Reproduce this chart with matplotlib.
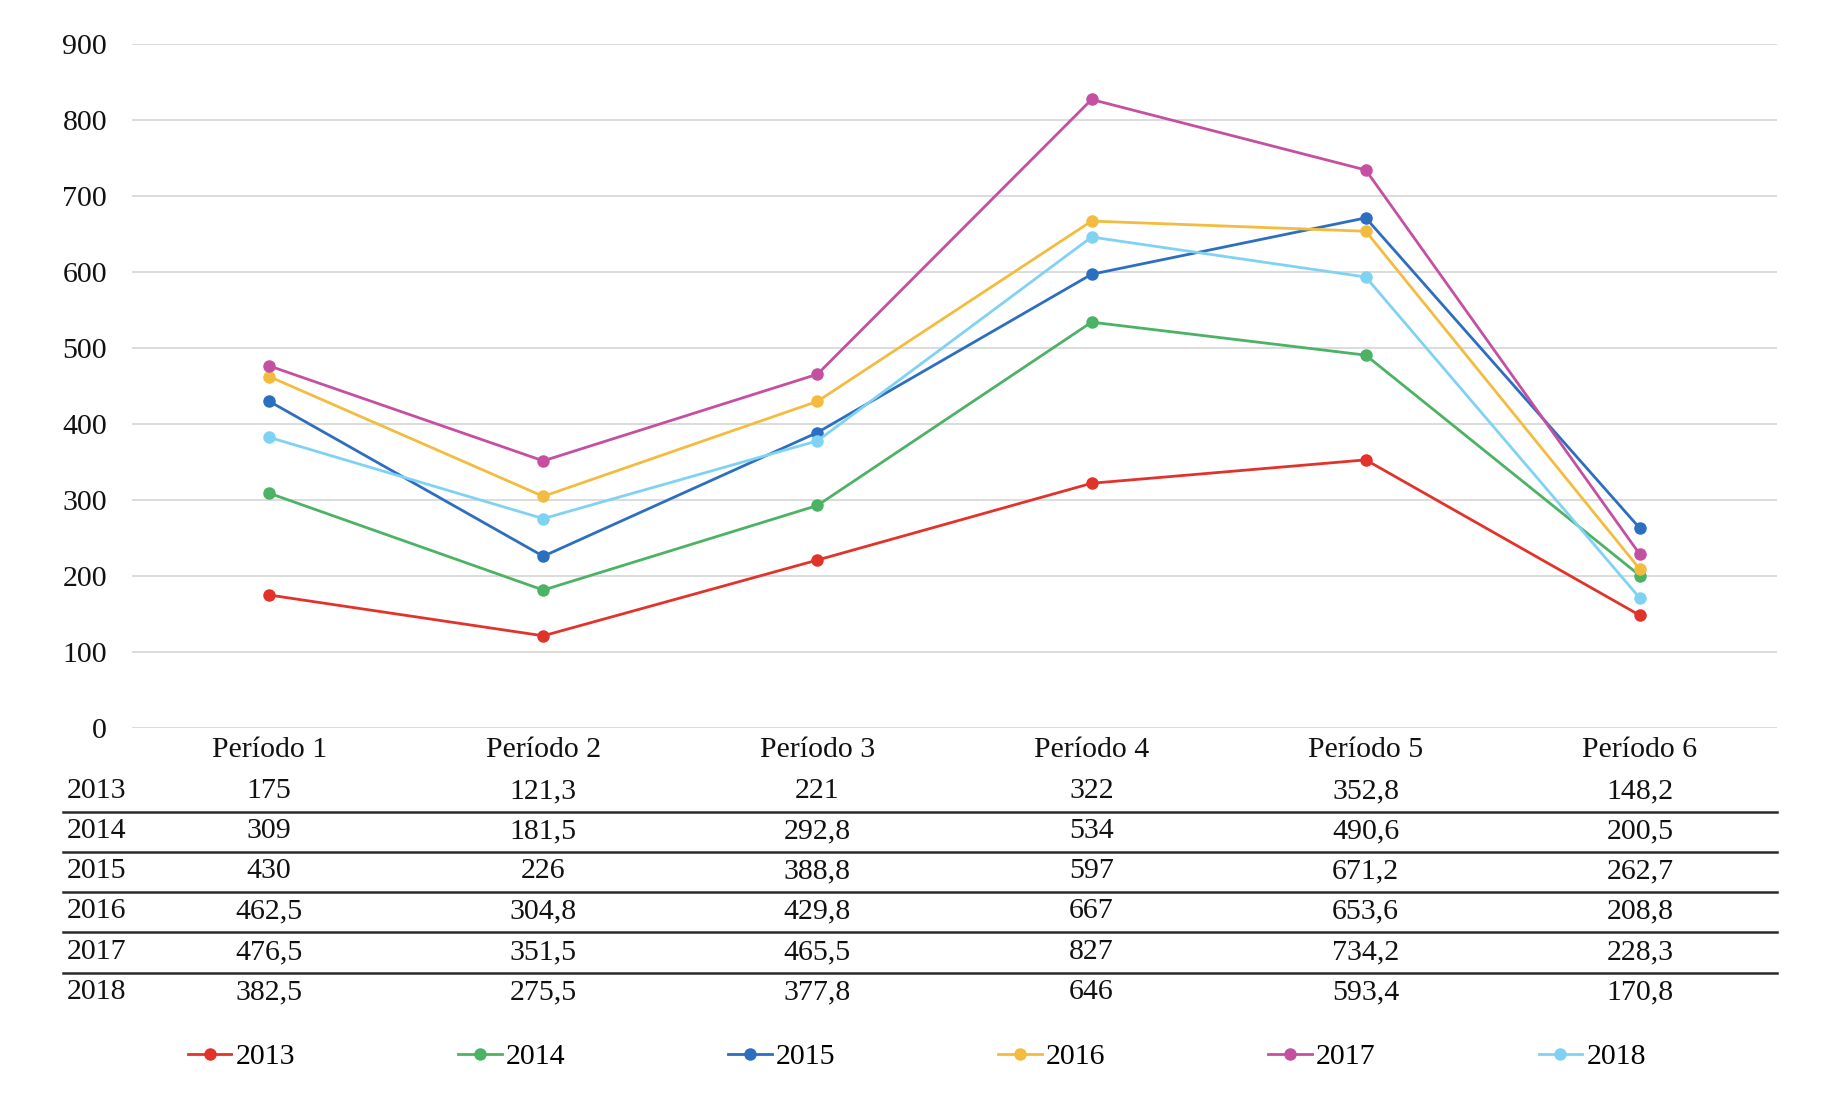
import matplotlib
matplotlib.use("Agg")
import matplotlib.pyplot as plt
import matplotlib.transforms as mtransforms
from matplotlib.lines import Line2D

plt.rcParams['font.family'] = ['Liberation Serif', 'DejaVu Serif']

periods = ["Período 1", "Período 2", "Período 3", "Período 4", "Período 5", "Período 6"]
years = ["2013", "2014", "2015", "2016", "2017", "2018"]
v2013 = [175, 121.3, 221, 322, 352.8, 148.2]
v2014 = [309, 181.5, 292.8, 534, 490.6, 200.5]
v2015 = [430, 226, 388.8, 597, 671.2, 262.7]
v2016 = [462.5, 304.8, 429.8, 667, 653.6, 208.8]
v2017 = [476.5, 351.5, 465.5, 827, 734.2, 228.3]
v2018 = [382.5, 275.5, 377.8, 646, 593.4, 170.8]
series = [v2013, v2014, v2015, v2016, v2017, v2018]
colors = ["#E2332B", "#4CB264", "#2C6EBF", "#F3BC3F", "#C54FA0", "#80D2F4"]
yticks = [0, 100, 200, 300, 400, 500, 600, 700, 800, 900]

W, H = 1838, 1096
fig = plt.figure(figsize=(W / 100, H / 100), dpi=100)
fig.patch.set_facecolor("white")

left, right, top, bottom = 132, 1777, 44, 728
ax = fig.add_axes([left / W, 1 - bottom / H, (right - left) / W, (bottom - top) / H])
x = list(range(len(periods)))

handles = []
for yr, vals, c in zip(years, series, colors):
    ln, = ax.plot(x, vals, color=c, lw=2.0, marker='o', markersize=9,
                  markeredgewidth=0, label=yr, zorder=3)
    handles.append(ln)

ax.set_xlim(-0.5, len(periods) - 0.5)
ax.set_ylim(0, 900)
ax.set_yticks(yticks)
ax.set_yticklabels([str(t) for t in yticks], fontsize=21.5, color="#111111")
ax.set_xticks([])
ax.tick_params(axis='y', length=0, pad=18)
ax.grid(axis='y', color="#dcdcdc", lw=1.4, zorder=0)
for s in ax.spines.values():
    s.set_visible(False)

trans = mtransforms.blended_transform_factory(ax.transData, fig.transFigure)

# category labels
for i, p in enumerate(periods):
    ax.text(i, 1 - 750 / H, p, transform=trans, ha='center', va='center',
            fontsize=21.5, color="#111111")

# data table
row_y = [791, 831, 871, 911, 952, 992]
for r, (yr, vals) in enumerate(zip(years, series)):
    fig.text(67 / W, 1 - row_y[r] / H, yr, ha='left', va='center',
             fontsize=21.5, color="#111111")
    for i, v in enumerate(vals):
        s = f"{v:g}".replace('.', ',')
        ax.text(i, 1 - row_y[r] / H, s, transform=trans, ha='center',
                va='center', fontsize=21.5, color="#111111")
for k in range(len(row_y) - 1):
    yy = 1 - ((row_y[k] + row_y[k + 1]) / 2 + 0.5) / H
    fig.add_artist(Line2D([63 / W, right / W], [yy, yy], transform=fig.transFigure,
                          color="#2a2a2a", lw=1.8))

# legend
fig.legend(handles=handles, loc='center', bbox_to_anchor=(917 / W, 1 - 1057 / H),
           ncol=6, frameon=False, fontsize=21.5, handlelength=1.45,
           handletextpad=0.15, columnspacing=5.45, borderaxespad=0)

fig.savefig("out.png", dpi=100, facecolor="white")
